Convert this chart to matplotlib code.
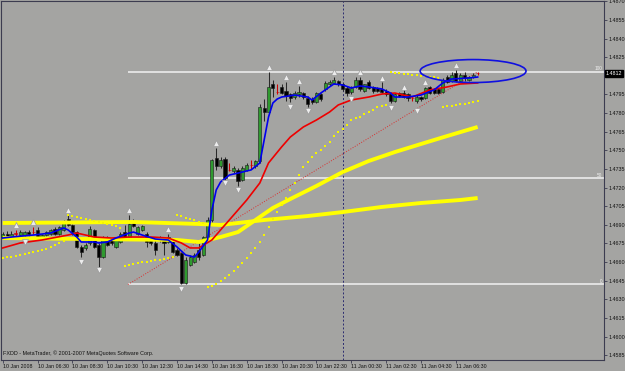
import matplotlib
matplotlib.use("Agg")
import matplotlib.pyplot as plt
from matplotlib.patches import Ellipse
from matplotlib.transforms import blended_transform_factory

# EURUSD M15, 10 Jan 04:30 .. 11 Jan 07:45 (bar index 0..109)
opens = [1.4680, 1.4683, 1.4681, 1.4683, 1.4682, 1.4682, 1.4684, 1.4684, 1.4686, 1.4680,
         1.4682, 1.4683, 1.4687, 1.4683, 1.4686, 1.4695, 1.4690, 1.4684, 1.4672, 1.4671,
         1.4675, 1.4686, 1.4674, 1.4664, 1.4680, 1.4678, 1.4672, 1.4676, 1.4684, 1.4680,
         1.4693, 1.4683, 1.4686, 1.4683, 1.4679, 1.4675, 1.4678, 1.4679, 1.4676, 1.4676,
         1.4670, 1.4667, 1.4643, 1.4658, 1.4660, 1.4670, 1.4666, 1.4678, 1.4694, 1.4744,
         1.4737, 1.4743, 1.4734, 1.4733, 1.4734, 1.4726, 1.4734, 1.4738, 1.4737, 1.4741,
         1.4784, 1.4781, 1.4803, 1.4797, 1.4801, 1.4798, 1.4795, 1.4793, 1.4795, 1.4796,
         1.4792, 1.4791, 1.4789, 1.4795, 1.4799, 1.4803, 1.4804, 1.4806, 1.4803, 1.4800,
         1.4797, 1.4801, 1.4807, 1.4798, 1.4805, 1.4801, 1.4800, 1.4799, 1.4798, 1.4796,
         1.4790, 1.4796, 1.4796, 1.4795, 1.4792, 1.4790, 1.4793, 1.4792, 1.4801, 1.4799,
         1.4799, 1.4797, 1.4809, 1.4806, 1.4812, 1.4806, 1.4811, 1.4807, 1.4809, 1.4812]
highs = [1.4684, 1.4685, 1.4685, 1.4686, 1.4686, 1.4685, 1.4686, 1.4688, 1.4688, 1.4683,
         1.4685, 1.4687, 1.4688, 1.4689, 1.4694, 1.4698, 1.4691, 1.4685, 1.4674, 1.4675,
         1.4689, 1.4687, 1.4675, 1.4681, 1.4681, 1.4679, 1.4679, 1.4684, 1.4690, 1.4698,
         1.4695, 1.4689, 1.4690, 1.4684, 1.4680, 1.4679, 1.4681, 1.4680, 1.4683, 1.4677,
         1.4671, 1.4668, 1.4664, 1.4666, 1.4667, 1.4675, 1.4681, 1.4696, 1.4743, 1.4752,
         1.4745, 1.4745, 1.4740, 1.4737, 1.4736, 1.4737, 1.4740, 1.4742, 1.4742, 1.4787,
         1.4791, 1.4813, 1.4807, 1.4803, 1.4803, 1.4805, 1.4796, 1.4798, 1.4802, 1.4797,
         1.4794, 1.4793, 1.4797, 1.4796, 1.4806, 1.4807, 1.4809, 1.4807, 1.4804, 1.4802,
         1.4802, 1.4809, 1.4809, 1.4803, 1.4807, 1.4802, 1.4801, 1.4805, 1.4799, 1.4797,
         1.4796, 1.4797, 1.4799, 1.4796, 1.4794, 1.4795, 1.4794, 1.4801, 1.4802, 1.4800,
         1.4800, 1.4808, 1.4811, 1.4813, 1.4815, 1.4812, 1.4813, 1.4810, 1.4812, 1.4813]
lows = [1.4679, 1.4679, 1.4679, 1.4681, 1.4681, 1.4679, 1.4681, 1.4683, 1.4679, 1.4679,
        1.4681, 1.4682, 1.4682, 1.4682, 1.4685, 1.4689, 1.4682, 1.4671, 1.4664, 1.4670,
        1.4674, 1.4671, 1.4656, 1.4663, 1.4673, 1.4674, 1.4671, 1.4675, 1.4678, 1.4679,
        1.4688, 1.4682, 1.4685, 1.4672, 1.4674, 1.4666, 1.4676, 1.4666, 1.4675, 1.4667,
        1.4665, 1.4642, 1.4642, 1.4657, 1.4659, 1.4662, 1.4665, 1.4677, 1.4692, 1.4734,
        1.4736, 1.4726, 1.4733, 1.4732, 1.4721, 1.4725, 1.4733, 1.4735, 1.4736, 1.4740,
        1.4774, 1.4780, 1.4793, 1.4795, 1.4795, 1.4790, 1.4789, 1.4791, 1.4793, 1.4791,
        1.4785, 1.4787, 1.4788, 1.4790, 1.4798, 1.4802, 1.4803, 1.4802, 1.4798, 1.4794,
        1.4795, 1.4800, 1.4798, 1.4797, 1.4799, 1.4796, 1.4797, 1.4796, 1.4794, 1.4788,
        1.4789, 1.4793, 1.4792, 1.4790, 1.4790, 1.4788, 1.4790, 1.4791, 1.4795, 1.4795,
        1.4795, 1.4796, 1.4804, 1.4805, 1.4805, 1.4805, 1.4806, 1.4806, 1.4808, 1.4811]
closes = [1.4683, 1.4681, 1.4683, 1.4683, 1.4684, 1.4684, 1.4683, 1.4684, 1.4680, 1.4682,
          1.4684, 1.4686, 1.4683, 1.4688, 1.4693, 1.4690, 1.4684, 1.4672, 1.4668, 1.4674,
          1.4687, 1.4672, 1.4664, 1.4680, 1.4674, 1.4675, 1.4678, 1.4683, 1.4679, 1.4691,
          1.4689, 1.4688, 1.4689, 1.4676, 1.4675, 1.4670, 1.4680, 1.4675, 1.4680, 1.4668,
          1.4666, 1.4643, 1.4662, 1.4664, 1.4666, 1.4664, 1.4680, 1.4694, 1.4742, 1.4737,
          1.4742, 1.4728, 1.4734, 1.4736, 1.4725, 1.4736, 1.4738, 1.4738, 1.4741, 1.4785,
          1.4781, 1.4801, 1.4800, 1.4797, 1.4796, 1.4794, 1.4792, 1.4796, 1.4797, 1.4793,
          1.4787, 1.4789, 1.4796, 1.4791, 1.4804, 1.4805, 1.4807, 1.4803, 1.4799, 1.4796,
          1.4800, 1.4807, 1.4799, 1.4803, 1.4800, 1.4798, 1.4798, 1.4797, 1.4795, 1.4790,
          1.4795, 1.4794, 1.4793, 1.4792, 1.4792, 1.4793, 1.4791, 1.4800, 1.4796, 1.4796,
          1.4796, 1.4807, 1.4805, 1.4811, 1.4806, 1.4811, 1.4808, 1.4809, 1.4811, 1.4812]

# fast MA (blue) and slow MA (red), read at selected bars
blue_idx = [0, 2, 7, 11, 14, 15, 17, 18, 21, 22, 24, 26, 29, 30, 32, 35, 38, 40, 42, 44,
            45, 47, 48, 49, 50, 52, 54, 57, 59, 60, 61, 62, 63, 64, 67, 70, 71, 73, 75, 76,
            78, 80, 82, 84, 87, 89, 90, 93, 96, 99, 101, 103, 107, 109]
blue_val = [1.46794, 1.46802, 1.46818, 1.46834, 1.46875, 1.46859, 1.46802, 1.46762, 1.46762, 1.46754,
            1.46762, 1.46794, 1.46834, 1.46842, 1.46818, 1.46786, 1.46778, 1.46722, 1.46657, 1.46641,
            1.46681, 1.46778, 1.47020, 1.47181, 1.47245, 1.47301, 1.47317, 1.47342, 1.47398, 1.47583,
            1.47768, 1.47881, 1.47913, 1.47929, 1.47945, 1.47929, 1.47905, 1.47961, 1.48010, 1.48034,
            1.48026, 1.48002, 1.48018, 1.48010, 1.47994, 1.47961, 1.47929, 1.47929, 1.47945, 1.47986,
            1.48042, 1.48074, 1.48082, 1.48090]
red_idx = [0, 4, 9, 15, 17, 21, 25, 29, 34, 38, 41, 43, 45, 48, 50, 52, 56, 59, 61, 64,
           66, 69, 72, 75, 77, 80, 84, 87, 90, 94, 98, 102, 105, 109]
red_val = [1.46714, 1.46754, 1.46778, 1.46818, 1.46834, 1.46802, 1.46794, 1.46802, 1.46802, 1.46794,
           1.46754, 1.46714, 1.46714, 1.46778, 1.46859, 1.46939, 1.47100, 1.47237, 1.47398, 1.47527,
           1.47607, 1.47688, 1.47744, 1.47808, 1.47865, 1.47905, 1.47929, 1.47953, 1.47961, 1.47929,
           1.47986, 1.48010, 1.48034, 1.48042]

# two long moving averages (thick yellow)
ma_slow_idx = [0, 30, 45, 50, 60, 70, 78, 87, 96, 105, 109]
ma_slow_val = [1.46915, 1.46923, 1.46907, 1.46899, 1.46939, 1.46971, 1.47003, 1.47044, 1.47076, 1.47100, 1.47116]
ma_mid_idx = [0, 20, 40, 45, 50, 54, 58, 62, 66, 72, 78, 84, 90, 96, 102, 109]
ma_mid_val = [1.46794, 1.46786, 1.46778, 1.46762, 1.46802, 1.46842, 1.46939, 1.47036, 1.47108, 1.47213,
              1.47325, 1.47414, 1.47486, 1.47551, 1.47615, 1.47688]

# parabolic SAR, one value per bar
sar = [1.46633, 1.46641, 1.46645, 1.46649, 1.46657, 1.46665, 1.46673, 1.46681, 1.46690, 1.46698,
       1.46706, 1.46722, 1.46738, 1.46754, 1.46770,
       1.46979, 1.46971, 1.46963, 1.46955, 1.46947, 1.46939, 1.46931, 1.46923, 1.46915, 1.46907,
       1.46899, 1.46891, 1.46875,
       1.46569, 1.46577, 1.46585, 1.46589, 1.46597, 1.46601, 1.46609, 1.46617, 1.46621, 1.46629,
       1.46633, 1.46641,
       1.46979, 1.46971, 1.46955, 1.46947, 1.46939, 1.46923, 1.46915,
       1.46400, 1.46408, 1.46424, 1.46448, 1.46472, 1.46496, 1.46528, 1.46561, 1.46593, 1.46633,
       1.46673, 1.46714, 1.46762, 1.46818, 1.46883, 1.46947, 1.47003, 1.47060, 1.47116, 1.47181,
       1.47237, 1.47301, 1.47366, 1.47406, 1.47446, 1.47478, 1.47503, 1.47535, 1.47567, 1.47615,
       1.47647, 1.47672, 1.47704, 1.47744, 1.47760, 1.47768, 1.47792, 1.47808, 1.47825, 1.47849,
       1.47857, 1.47865,
       1.48130, 1.48126, 1.48122, 1.48118, 1.48114, 1.48110, 1.48106, 1.48102, 1.48098, 1.48094,
       1.48090, 1.48086,
       1.47849, 1.47853, 1.47857, 1.47865, 1.47869, 1.47873, 1.47881, 1.47889, 1.47897]

# Bill Williams fractals
frac_up_idx = [3, 7, 15, 29, 38, 49, 61, 65, 68, 76, 82, 87, 92, 97, 104]
frac_up_val = [1.4690, 1.4692, 1.4702, 1.4702, 1.4687, 1.4756, 1.4817, 1.4809, 1.4806, 1.4813,
               1.4813, 1.4808, 1.4801, 1.4805, 1.4819]
frac_dn_idx = [5, 18, 22, 41, 51, 54, 66, 70, 80, 89, 95]
frac_dn_val = [1.4676, 1.4660, 1.4654, 1.4638, 1.4724, 1.4718, 1.4785, 1.4782, 1.4791, 1.4784, 1.4782]

# Fibonacci retracement
fib_start, fib_end = 28.75, 108.9
fib_low, fib_high = 1.4642, 1.4813
fib_levels = [0, 50, 100]

day_break = 78          # 11 Jan 00:00
last_price = 1.4812

time_labels = ["10 Jan 2008", "10 Jan 06:30", "10 Jan 08:30", "10 Jan 10:30", "10 Jan 12:30",
               "10 Jan 14:30", "10 Jan 16:30", "10 Jan 18:30", "10 Jan 20:30", "10 Jan 22:30",
               "11 Jan 00:30", "11 Jan 02:30", "11 Jan 04:30", "11 Jan 06:30"]
price_ticks = [1.4870, 1.4855, 1.4840, 1.4825, 1.4795, 1.4780, 1.4765, 1.4750, 1.4735, 1.4720,
               1.4705, 1.4690, 1.4675, 1.4660, 1.4645, 1.4630, 1.4615, 1.4600, 1.4585]

plt.rcParams["font.family"] = ["Liberation Sans", "DejaVu Sans"]

bg = "#a4a4a2"
frame = "#3c3c50"

fig = plt.figure(figsize=(6.25, 3.71), dpi=100)
fig.patch.set_facecolor(bg)
ax = fig.add_axes([1 / 625, 11 / 371, 603 / 625, 359 / 371])
ax.set_facecolor(bg)
ax.set_xlim(-0.4, 138.0)
ax.set_ylim(1.45812, 1.48702)

# fib levels and base line
fib_prices = [fib_low + (fib_high - fib_low) * lv / 100 for lv in fib_levels]
ax.hlines(fib_prices, fib_start, 138.0, color="#f2f2f2", lw=1.1, zorder=1)
for lv, p in zip(fib_levels, fib_prices):
    ax.text(137.6, p + 0.00005, str(lv), color="#f2f2f2", fontsize=3.4, ha="right", va="bottom", zorder=2)
ax.plot([fib_start, fib_end], [fib_low, fib_high], color="#d83030", lw=0.7,
        ls=(0, (1, 1.6)), zorder=2)

ax.axvline(day_break, color="#2c2c70", lw=0.7, ls=(0, (2, 2)), zorder=1)

# candles
for i in range(len(opens)):
    o, h, l, c = opens[i], highs[i], lows[i], closes[i]
    if c > o:
        body = "#2f9a2f"
        wick = "#2a2a2a"
    elif c < o:
        body = "#000000"
        wick = "#2a2a2a"
    else:
        body = "#d00000"
        wick = "#d00000"
    ax.vlines(i, l, h, color=wick, lw=0.75, zorder=3)
    ax.bar(i, max(abs(c - o), 0.00002), bottom=min(o, c), width=0.72, color=body,
           edgecolor="#1a1a1a" if c != o else body, lw=0.4, zorder=4)

# indicators
ax.plot(ma_slow_idx, ma_slow_val, color="#ffff00", lw=2.8, solid_capstyle="butt", zorder=5)
ax.plot(ma_mid_idx, ma_mid_val, color="#ffff00", lw=2.8, solid_capstyle="butt", zorder=5)
ax.plot(red_idx, red_val, color="#ee0000", lw=1.2, zorder=6)
ax.plot(blue_idx, blue_val, color="#0000ee", lw=1.2, zorder=7)
ax.plot(range(len(sar)), sar, ls="none", marker="s", ms=1.7, color="#f4f400", mew=0, zorder=6)

ax.plot(frac_up_idx, frac_up_val, ls="none", marker="^", ms=4.2, mfc="#ececec", mec="#9a9a9a",
        mew=0.5, zorder=8)
ax.plot(frac_dn_idx, frac_dn_val, ls="none", marker="v", ms=4.2, mfc="#ececec", mec="#9a9a9a",
        mew=0.5, zorder=8)

ax.add_patch(Ellipse((107.95, 1.48138), 24.3, 0.00185, fill=False, ec="#1010e0", lw=1.2, zorder=9))

# axes styling
for s in ax.spines.values():
    s.set_color(frame)
    s.set_linewidth(0.8)
ax.yaxis.tick_right()
ax.set_yticks(price_ticks)
ax.set_yticklabels([f"{p:.4f}" for p in price_ticks])
ax.tick_params(axis="y", length=2, width=0.6, color=frame, labelsize=3.9, pad=1.0, labelcolor="#111111")
ax.set_xticks(range(0, 8 * len(time_labels), 8))
ax.set_xticklabels(time_labels)
ax.tick_params(axis="x", length=2, width=0.6, color=frame, labelsize=3.8, pad=0.8, labelcolor="#111111")
for lab in ax.get_xticklabels():
    lab.set_ha("left")

tr = blended_transform_factory(ax.transAxes, ax.transData)
ax.text(1.003, last_price, f"{last_price:.4f}", transform=tr, color="white", fontsize=3.9,
        va="center", ha="left", bbox=dict(facecolor="black", edgecolor="black", pad=0.5))

ax.text(0.003, 0.012, "FXDD - MetaTrader, \u00a9 2001-2007 MetaQuotes Software Corp.",
        transform=ax.transAxes, fontsize=3.9, color="#111111", va="bottom", ha="left")

fig.savefig("out.png", dpi=100, facecolor=bg)
